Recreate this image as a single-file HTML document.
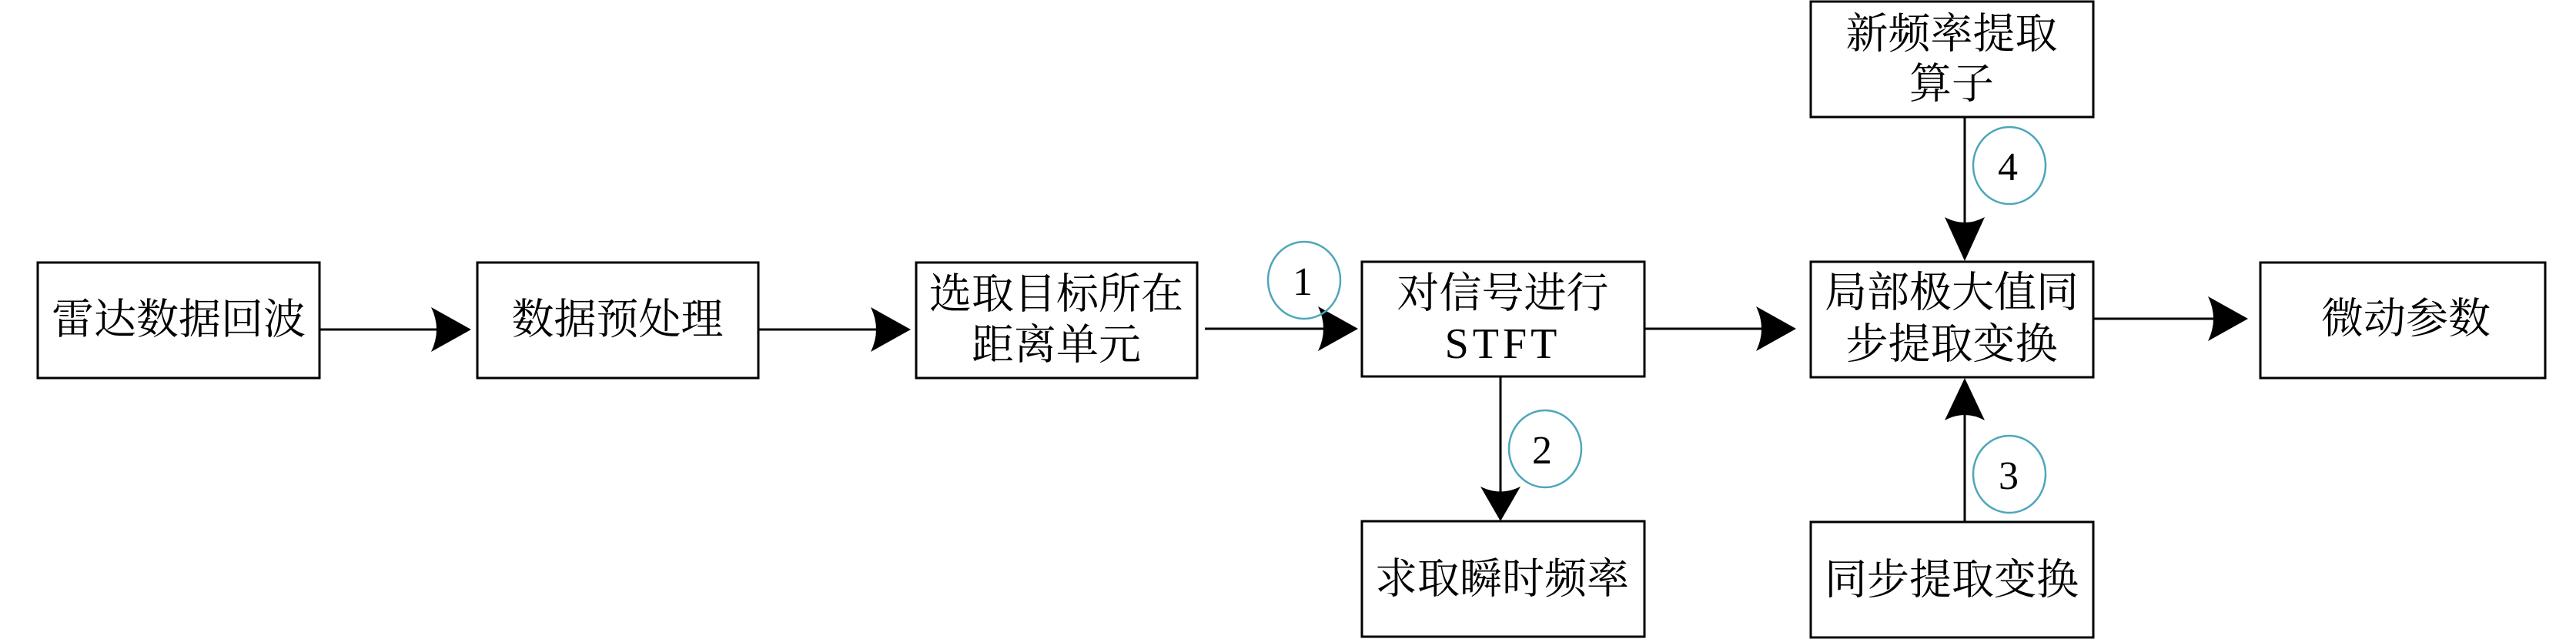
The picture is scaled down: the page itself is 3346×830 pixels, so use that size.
<!DOCTYPE html>
<html>
<head>
<meta charset="utf-8">
<style>
html,body{margin:0;padding:0;background:#fff;}
svg{display:block;}
text{font-family:"Liberation Serif","Noto Serif CJK SC",serif;fill:#000;}
.cn{font-family:"Liberation Serif","Noto Serif CJK SC","Noto Sans CJK SC",serif;font-size:55px;}
.num{font-family:"Liberation Serif",serif;font-size:52px;}
</style>
</head>
<body>
<svg width="3346" height="830" viewBox="0 0 3346 830" xmlns="http://www.w3.org/2000/svg">
<g fill="none" stroke="#000" stroke-width="3">
  <rect x="49" y="341" width="366" height="150"/>
  <rect x="620" y="341" width="365" height="150"/>
  <rect x="1190" y="341" width="365" height="150"/>
  <rect x="1769" y="340" width="367" height="149"/>
  <rect x="2352" y="340" width="367" height="150"/>
  <rect x="2936" y="341" width="370" height="150"/>
  <rect x="2352" y="2" width="367" height="150"/>
  <rect x="1769" y="677" width="367" height="150"/>
  <rect x="2352" y="678" width="367" height="150"/>
</g>
<g stroke="#000" stroke-width="3" fill="none">
  <line x1="415" y1="428" x2="575" y2="428"/>
  <line x1="985" y1="428" x2="1145" y2="428"/>
  <line x1="1565" y1="427" x2="1725" y2="427"/>
  <line x1="2136" y1="427" x2="2295" y2="427"/>
  <line x1="2719" y1="414" x2="2880" y2="414"/>
  <line x1="1949" y1="489" x2="1949" y2="640"/>
  <line x1="2552" y1="152" x2="2552" y2="295"/>
  <line x1="2552" y1="678" x2="2552" y2="535"/>
</g>
<g fill="#000" stroke="none">
  <!-- horizontal heads: tip, back at -52, half 29 -->
  <path d="M612 428 L560 399 Q574 428 560 457 Z"/>
  <path d="M1183 428 L1131 399 Q1145 428 1131 457 Z"/>
  <path d="M1764 427 L1712 398 Q1726 427 1712 456 Z"/>
  <path d="M2333 427 L2281 398 Q2295 427 2281 456 Z"/>
  <path d="M2920 414 L2868 385 Q2882 414 2868 443 Z"/>
  <!-- vertical down -->
  <path d="M1949 677 L1923 632 Q1949 645 1975 632 Z"/>
  <path d="M2552 339 L2526 282 Q2552 296 2578 282 Z"/>
  <!-- vertical up -->
  <path d="M2552 491 L2526 546 Q2552 532 2578 546 Z"/>
</g>
<g fill="none" stroke="#4ea6ba" stroke-width="2.5">
  <ellipse cx="1694" cy="364" rx="47" ry="50"/>
  <ellipse cx="2007" cy="583" rx="47" ry="50"/>
  <ellipse cx="2610" cy="215" rx="47" ry="50"/>
  <ellipse cx="2610" cy="616" rx="47" ry="50"/>
</g>
<g class="num" text-anchor="middle">
  <text x="1692" y="383" class="num">1</text>
  <text x="2003" y="602" class="num">2</text>
  <text x="2608" y="234" class="num">4</text>
  <text x="2609" y="635" class="num">3</text>
</g>
<g text-anchor="middle" dominant-baseline="central">
  <text class="cn" x="232" y="415">雷达数据回波</text>
  <text class="cn" x="802" y="415">数据预处理</text>
  <text class="cn" x="1372" y="382">选取目标所在</text>
  <text class="cn" x="1372" y="448">距离单元</text>
  <text class="cn" x="1952" y="381">对信号进行</text>
  <text x="1952" y="447" style="font-family:'Liberation Serif',serif;font-size:56px;letter-spacing:5px;">STFT</text>
  <text class="cn" x="2535" y="380">局部极大值同</text>
  <text class="cn" x="2535" y="447">步提取变换</text>
  <text class="cn" x="3125" y="414">微动参数</text>
  <text class="cn" x="2535" y="44">新频率提取</text>
  <text class="cn" x="2535" y="109">算子</text>
  <text class="cn" x="1951" y="752">求取瞬时频率</text>
  <text class="cn" x="2535" y="753">同步提取变换</text>
</g>
</svg>
</body>
</html>
